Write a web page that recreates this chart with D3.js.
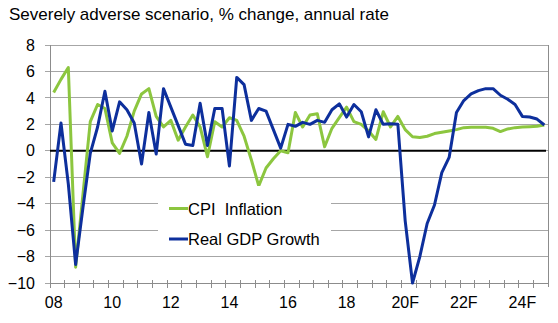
<!DOCTYPE html>
<html>
<head>
<meta charset="utf-8">
<script src="https://cdn.jsdelivr.net/npm/d3@7"></script>
<style>
  body { margin: 0; background: #fff; }
  text { font-family: "Liberation Sans", Arial, sans-serif; fill: #000; }
</style>
</head>
<body>
<div id="viz"></div>
<script>
// quarterly series, 2008Q1 - 2024Q4
var years = d3.range(2008, 2025);
var quarters = [];
years.forEach(function (yr) {
  for (var q = 1; q <= 4; q++) quarters.push(yr + 'Q' + q);
});

var cpiInflation = [
  4.4, 5.4, 6.3, -8.8, -3.3, 2.2, 3.5, 3.2,
  0.6, -0.2, 1.1, 3.0, 4.3, 4.7, 2.6, 1.8,
  2.3, 0.8, 1.8, 2.7, 1.8, -0.45, 2.2, 1.8,
  2.5, 2.3, 1.1, -0.7, -2.65, -1.3, -0.6, 0.0,
  -0.15, 2.9, 1.8, 2.7, 2.8, 0.3, 1.7, 2.5,
  3.3, 2.2, 2.0, 1.5, 0.86, 2.95, 1.8, 2.6,
  1.6, 1.06, 1.0, 1.1, 1.3, 1.4, 1.5, 1.6,
  1.75, 1.78, 1.78, 1.78, 1.7, 1.45, 1.65, 1.75,
  1.8, 1.82, 1.85, 1.95
];

var realGdpGrowth = [
  -2.35, 2.1, -2.5, -8.6, -4.3, -0.2, 1.8, 4.5,
  1.5, 3.7, 3.1, 2.1, -1.0, 2.9, -0.25, 4.7,
  3.3, 1.9, 0.5, 0.4, 3.6, 0.4, 3.2, 3.2,
  -1.15, 5.55, 5.0, 2.3, 3.2, 3.0, 1.6, 0.2,
  2.0, 1.85, 2.15, 2.0, 2.3, 2.15, 3.1, 3.55,
  2.55, 3.5, 2.95, 1.05, 3.1, 2.0, 2.05, 2.0,
  -5.3, -10.0, -8.0, -5.5, -4.1, -1.65, -0.5, 2.9,
  3.8, 4.3, 4.55, 4.7, 4.7, 4.2, 3.9, 3.5,
  2.6, 2.55, 2.4, 1.95
];

// x labels every second year, forecast years marked F
var labelQuarters = ['2008Q1', '2010Q1', '2012Q1', '2014Q1', '2016Q1', '2018Q1', '2020Q1', '2022Q1', '2024Q1'];
var labelText = ['08', '10', '12', '14', '16', '18', '20F', '22F', '24F'];
var yTicks = [-10, -8, -6, -4, -2, 0, 2, 4, 6, 8];

var seriesNames = ['CPI  Inflation', 'Real GDP Growth'];
var seriesColors = ['#8cc63f', '#0d2f9c'];

var width = 558, height = 323;
var plotLeft = 50, plotRight = 548, plotTop = 45, plotBottom = 283;

var svg = d3.select('#viz').append('svg')
  .attr('width', width)
  .attr('height', height);

svg.append('text')
  .attr('x', 9)
  .attr('y', 20)
  .style('font-size', '17px')
  .text('Severely adverse scenario, % change, annual rate');

var x = d3.scaleBand().domain(quarters).range([plotLeft, plotRight]);
var y = d3.scaleLinear().domain([-10, 8]).range([plotBottom, plotTop]);
var cx = function (q) { return x(q) + x.bandwidth() / 2; };

// gridlines
svg.append('g')
  .selectAll('line')
  .data(yTicks)
  .enter().append('line')
  .attr('x1', plotLeft - 5).attr('x2', plotRight)
  .attr('y1', function (d) { return y(d); })
  .attr('y2', function (d) { return y(d); })
  .attr('stroke', '#a6a6a6')
  .attr('stroke-width', 1)
  .attr('shape-rendering', 'crispEdges');

// y labels
svg.append('g')
  .attr('transform', 'translate(' + plotLeft + ',0)')
  .call(d3.axisLeft(y).tickValues(yTicks).tickSize(0).tickPadding(15).tickFormat(d3.format('d')))
  .call(function (g) { g.select('.domain').remove(); })
  .selectAll('text')
  .style('font-size', '16px')
  .style('font-family', '"Liberation Sans", Arial, sans-serif');

// plot frame: left axis, right edge, bottom axis
svg.append('line')
  .attr('x1', plotLeft).attr('x2', plotLeft).attr('y1', plotTop).attr('y2', plotBottom + 4)
  .attr('stroke', '#8c8c8c').attr('shape-rendering', 'crispEdges');
svg.append('line')
  .attr('x1', plotRight).attr('x2', plotRight).attr('y1', plotTop).attr('y2', plotBottom + 4)
  .attr('stroke', '#8c8c8c').attr('shape-rendering', 'crispEdges');
svg.append('line')
  .attr('x1', plotLeft).attr('x2', plotRight).attr('y1', plotBottom).attr('y2', plotBottom)
  .attr('stroke', '#8c8c8c').attr('shape-rendering', 'crispEdges');

// x tick marks every half year
var tickQuarters = quarters.filter(function (d, i) { return i % 2 === 0; });
svg.append('g')
  .selectAll('line')
  .data(tickQuarters)
  .enter().append('line')
  .attr('x1', function (d) { return x(d); })
  .attr('x2', function (d) { return x(d); })
  .attr('y1', plotBottom - 3).attr('y2', plotBottom + 5)
  .attr('stroke', '#8c8c8c')
  .attr('shape-rendering', 'crispEdges');

// x labels
var labelMap = {};
labelQuarters.forEach(function (q, i) { labelMap[q] = labelText[i]; });
svg.append('g')
  .attr('transform', 'translate(0,' + plotBottom + ')')
  .call(d3.axisBottom(x).tickValues(labelQuarters).tickSize(0).tickPadding(14)
    .tickFormat(function (d) { return labelMap[d]; }))
  .call(function (g) { g.select('.domain').remove(); })
  .selectAll('text')
  .style('font-size', '16px')
  .style('font-family', '"Liberation Sans", Arial, sans-serif');

// zero line
svg.append('line')
  .attr('x1', plotLeft).attr('x2', plotRight - 2)
  .attr('y1', y(0)).attr('y2', y(0))
  .attr('stroke', '#000')
  .attr('stroke-width', 2);

// series lines
var line = d3.line()
  .x(function (d, i) { return cx(quarters[i]); })
  .y(function (d) { return y(d); });

[cpiInflation, realGdpGrowth].forEach(function (s, k) {
  svg.append('path')
    .datum(s)
    .attr('d', line)
    .attr('fill', 'none')
    .attr('stroke', seriesColors[k])
    .attr('stroke-width', 3)
    .attr('stroke-linejoin', 'round');
});

// legend
var legend = svg.append('g');
legend.append('rect')
  .attr('x', 158).attr('y', 186)
  .attr('width', 173).attr('height', 66)
  .attr('fill', '#fff');

seriesNames.forEach(function (name, k) {
  var ly = 208.5 + k * 30.5;
  legend.append('line')
    .attr('x1', 169).attr('x2', 188)
    .attr('y1', ly).attr('y2', ly)
    .attr('stroke', seriesColors[k])
    .attr('stroke-width', 3);
  legend.append('text')
    .attr('x', 188)
    .attr('y', ly + 6)
    .style('font-size', '16.5px')
    .attr('xml:space', 'preserve')
    .style('white-space', 'pre')
    .text(name);
});
</script>
</body>
</html>
